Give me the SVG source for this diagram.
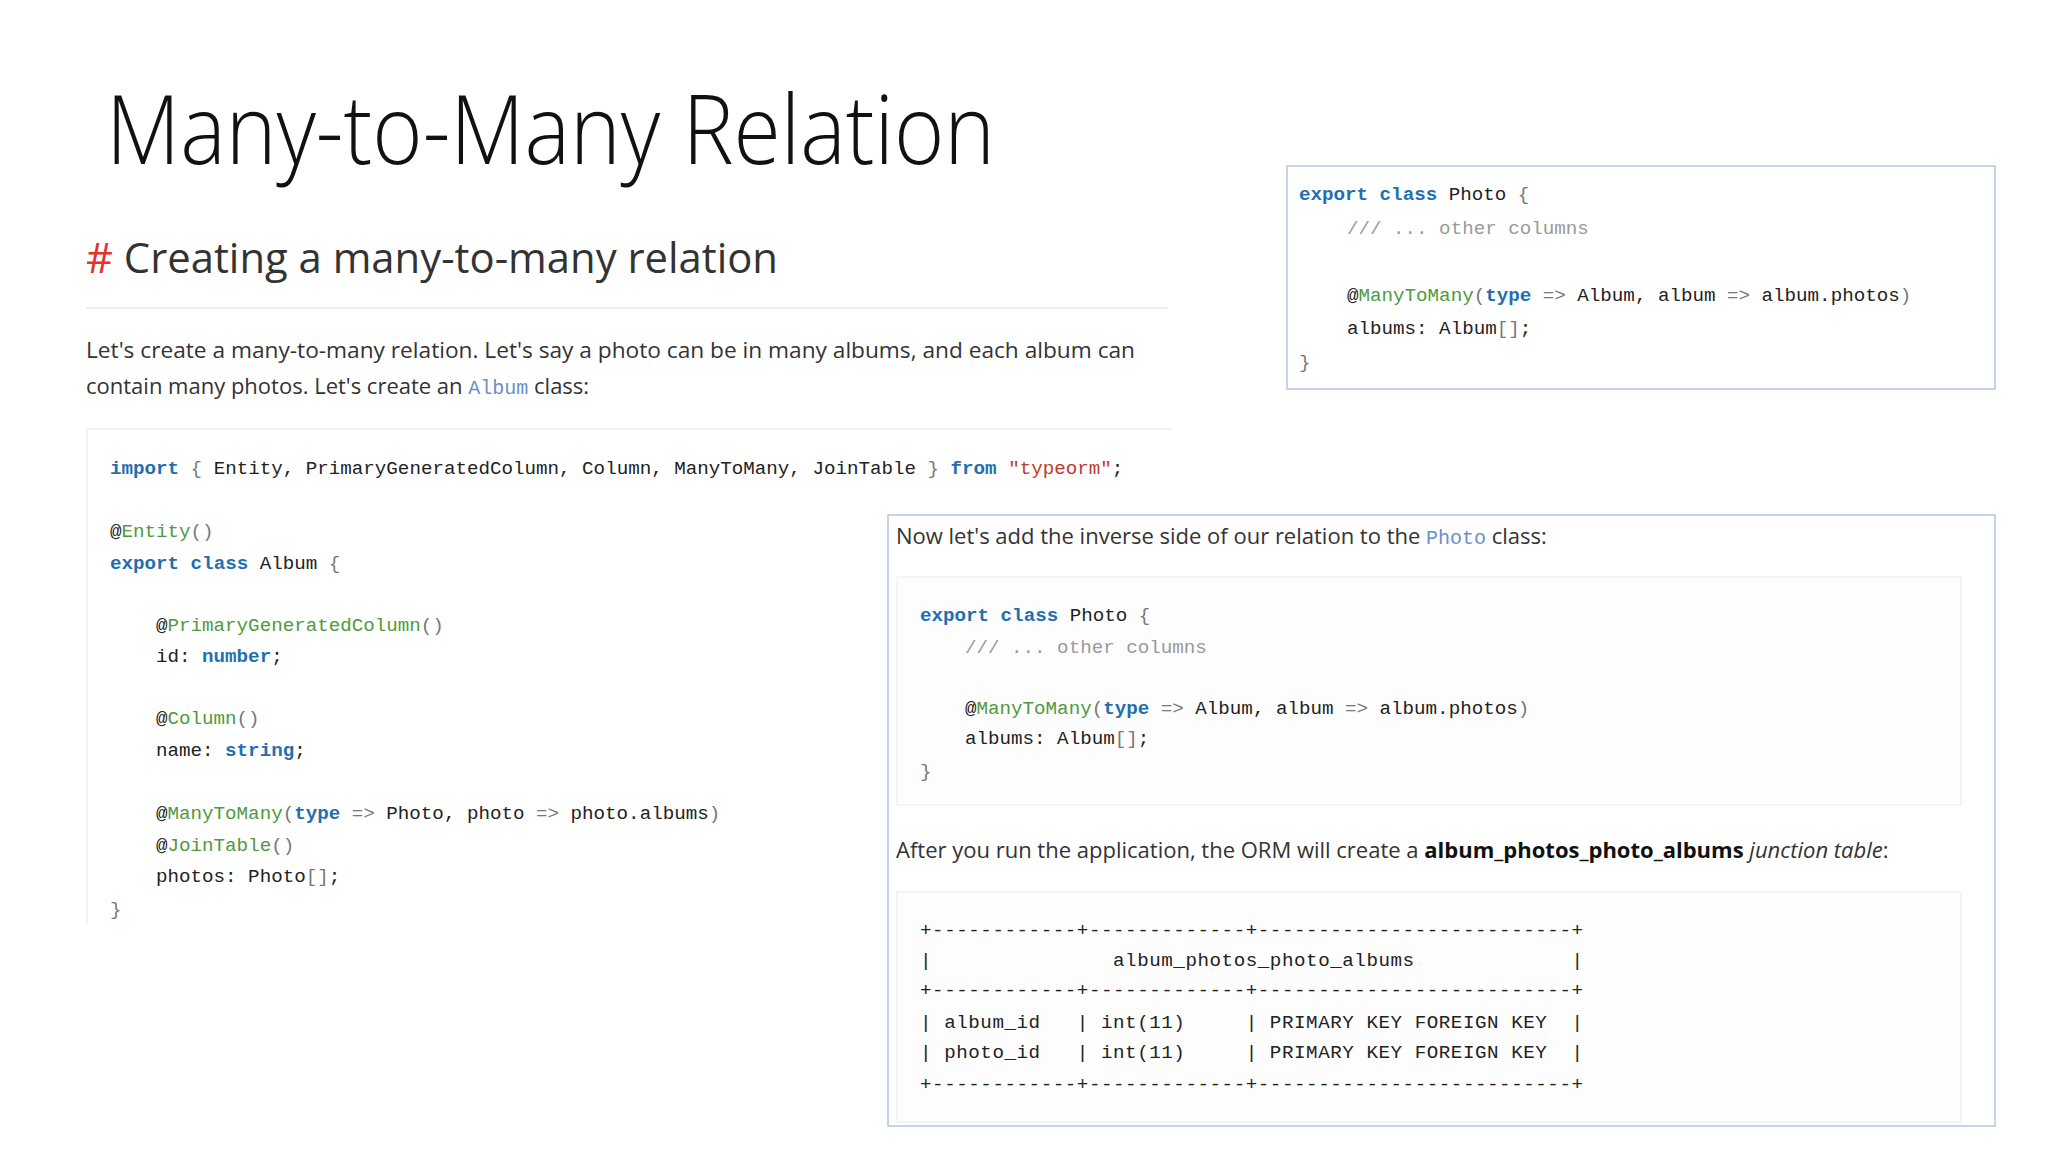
<svg xmlns="http://www.w3.org/2000/svg" width="2048" height="1152" viewBox="0 0 2048 1152">
<style>
.t{font-family:"Open Sans","Noto Sans",sans-serif;fill:#333}
.m{font-family:"Liberation Mono","DejaVu Sans Mono",monospace;font-size:19.2px;fill:#222;white-space:pre}
.k{fill:#1f6fb0;font-weight:bold}
.d{fill:#4e9a3c}
.c{fill:#9a9a9a}
.p{fill:#777}
.s{fill:#c0392b}
.ic{font-family:"Liberation Mono",monospace;fill:#6b8fc9;font-size:20px}
.box{fill:#fff;stroke:#b4c6e4;stroke-width:1.5}
.code{fill:#fdfdfd;stroke:#f1f1f1;stroke-width:1.5}
</style>
<rect width="2048" height="1152" fill="#fff"/>
<g id="title"><text class="t" x="106" y="164" font-size="96" font-weight="300" fill="#111" textLength="889" lengthAdjust="spacingAndGlyphs" style="fill:#111">Many-to-Many Relation</text></g>
<g id="heading">
<text class="t" x="86" y="273" font-size="42" textLength="692" lengthAdjust="spacingAndGlyphs"><tspan fill="#e5322d" style="fill:#e5322d">#</tspan> Creating a many-to-many relation</text>
<line x1="86" y1="308" x2="1168" y2="308" stroke="#eee" stroke-width="2"/>
</g>
<g id="intro">
<text class="t" x="86" y="358" font-size="22" textLength="1049" lengthAdjust="spacingAndGlyphs">Let's create a many-to-many relation. Let's say a photo can be in many albums, and each album can</text>
<text class="t" x="86" y="394" font-size="22">contain many photos. Let's create an <tspan class="ic">Album</tspan> class:</text>
</g>
<g id="album-code">
<rect x="86" y="429" width="1086" height="495" fill="#fff"/>
<line x1="86" y1="429" x2="1172" y2="429" stroke="#f2f2f2" stroke-width="2"/>
<line x1="87" y1="429" x2="87" y2="924" stroke="#f2f2f2" stroke-width="2"/>
<text class="m" x="110" y="474"><tspan class="k">import</tspan> <tspan class="p">{</tspan> Entity, PrimaryGeneratedColumn, Column, ManyToMany, JoinTable <tspan class="p">}</tspan> <tspan class="k">from</tspan> <tspan class="s">"typeorm"</tspan>;</text>
<text class="m" x="110" y="537">@<tspan class="d">Entity</tspan><tspan class="p">()</tspan></text>
<text class="m" x="110" y="569"><tspan class="k">export class</tspan> Album <tspan class="p">{</tspan></text>
<text class="m" x="156" y="631">@<tspan class="d">PrimaryGeneratedColumn</tspan><tspan class="p">()</tspan></text>
<text class="m" x="156" y="662">id: <tspan class="k">number</tspan>;</text>
<text class="m" x="156" y="724">@<tspan class="d">Column</tspan><tspan class="p">()</tspan></text>
<text class="m" x="156" y="756">name: <tspan class="k">string</tspan>;</text>
<text class="m" x="156" y="819">@<tspan class="d">ManyToMany</tspan><tspan class="p">(</tspan><tspan class="k">type</tspan> <tspan class="p">=&gt;</tspan> Photo, photo <tspan class="p">=&gt;</tspan> photo.albums<tspan class="p">)</tspan></text>
<text class="m" x="156" y="851">@<tspan class="d">JoinTable</tspan><tspan class="p">()</tspan></text>
<text class="m" x="156" y="882">photos: Photo<tspan class="p">[]</tspan>;</text>
<text class="m p" x="110" y="915">}</text>
</g>
<g id="photo-box-top">
<rect class="box" x="1287" y="166" width="708" height="223"/>
<text class="m" x="1299" y="200"><tspan class="k">export class</tspan> Photo <tspan class="p">{</tspan></text>
<text class="m c" x="1347" y="234">/// ... other columns</text>
<text class="m" x="1347" y="301">@<tspan class="d">ManyToMany</tspan><tspan class="p">(</tspan><tspan class="k">type</tspan> <tspan class="p">=&gt;</tspan> Album, album <tspan class="p">=&gt;</tspan> album.photos<tspan class="p">)</tspan></text>
<text class="m" x="1347" y="334">albums: Album<tspan class="p">[]</tspan>;</text>
<text class="m p" x="1299" y="368">}</text>
</g>
<g id="inverse-box">
<rect class="box" x="888" y="515" width="1107" height="611"/>
<text class="t" x="896" y="544" font-size="22">Now let's add the inverse side of our relation to the <tspan class="ic">Photo</tspan> class:</text>
<rect class="code" x="897" y="577" width="1064" height="228"/>
<text class="m" x="920" y="621"><tspan class="k">export class</tspan> Photo <tspan class="p">{</tspan></text>
<text class="m c" x="965" y="653">/// ... other columns</text>
<text class="m" x="965" y="714">@<tspan class="d">ManyToMany</tspan><tspan class="p">(</tspan><tspan class="k">type</tspan> <tspan class="p">=&gt;</tspan> Album, album <tspan class="p">=&gt;</tspan> album.photos<tspan class="p">)</tspan></text>
<text class="m" x="965" y="744">albums: Album<tspan class="p">[]</tspan>;</text>
<text class="m p" x="920" y="777">}</text>
<text class="t" x="896" y="858" font-size="22">After you run the application, the ORM will create a <tspan font-weight="bold" style="fill:#111">album_photos_photo_albums</tspan> <tspan font-style="italic">junction table</tspan>:</text>
<rect class="code" x="897" y="892" width="1064" height="230"/>
<text class="m" x="920" y="936" textLength="663" lengthAdjust="spacing">+------------+-------------+--------------------------+</text>
<text class="m" x="920" y="966" textLength="663" lengthAdjust="spacing">|               album_photos_photo_albums             |</text>
<text class="m" x="920" y="996" textLength="663" lengthAdjust="spacing">+------------+-------------+--------------------------+</text>
<text class="m" x="920" y="1028" textLength="663" lengthAdjust="spacing">| album_id   | int(11)     | PRIMARY KEY FOREIGN KEY  |</text>
<text class="m" x="920" y="1058" textLength="663" lengthAdjust="spacing">| photo_id   | int(11)     | PRIMARY KEY FOREIGN KEY  |</text>
<text class="m" x="920" y="1090" textLength="663" lengthAdjust="spacing">+------------+-------------+--------------------------+</text>
</g>
</svg>
